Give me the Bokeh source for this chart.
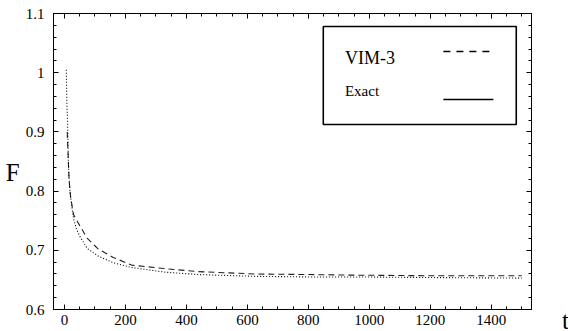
from bokeh.plotting import figure
from bokeh.models import (LinearAxis, FixedTicker, CustomJSTickFormatter, Label,
                          Range1d, BoxAnnotation, Div)
from bokeh.layouts import row
from bokeh.embed import file_html
from bokeh.resources import INLINE

# ---- data ----
t_exact = [6, 7, 8, 10, 12, 14, 18, 25, 30, 40, 52, 75, 111, 160, 220, 331, 439,
           626, 800, 954, 1200, 1500]
F_exact = [1.005, 0.97, 0.945, 0.92, 0.87, 0.83, 0.80, 0.77, 0.753, 0.735, 0.722,
           0.703, 0.69, 0.679, 0.671, 0.663, 0.659, 0.656, 0.655, 0.655, 0.654, 0.653]

t_vim3 = [9, 12, 15, 20, 30, 52, 75, 111, 160, 220, 331, 439, 626, 800, 954, 1200, 1500]
F_vim3 = [0.90, 0.86, 0.82, 0.79, 0.76, 0.74, 0.72, 0.702, 0.688, 0.675, 0.669, 0.664,
          0.660, 0.659, 0.658, 0.657, 0.657]

x_ticks = [0, 200, 400, 600, 800, 1000, 1200, 1400]
x_minor = [v for v in range(-50, 1551, 50)]
y_ticks = [0.6, 0.7, 0.8, 0.9, 1.0, 1.1]
y_minor = [round(0.6 + 0.02 * i, 2) for i in range(26)]

series_names = ["VIM-3", "Exact"]
x_title = "t"
y_title = "F"

FONT = "Liberation Serif"

p = figure(width=558, height=327, output_backend="svg", toolbar_location=None,
           x_range=Range1d(-36, 1532), y_range=Range1d(0.6, 1.1),
           min_border_left=53, min_border_right=27, min_border_top=13,
           min_border_bottom=10, x_axis_location=None, y_axis_location=None)
p.background_fill_color = "white"
p.border_fill_color = "white"
p.outline_line_color = "black"
p.outline_line_width = 1
p.xgrid.visible = False
p.ygrid.visible = False

blank = CustomJSTickFormatter(code="return '';")


def make_axis(ticks, minor, labels=True, fmt=None):
    ax = LinearAxis(ticker=FixedTicker(ticks=ticks, minor_ticks=minor))
    ax.axis_line_color = "black"
    ax.major_tick_in = 5
    ax.major_tick_out = 0
    ax.minor_tick_in = 3
    ax.minor_tick_out = 0
    ax.major_tick_line_color = "black"
    ax.minor_tick_line_color = "black"
    ax.major_label_text_font = FONT
    ax.major_label_text_font_size = "15px"
    ax.major_label_text_color = "black"
    if labels:
        if fmt is not None:
            ax.formatter = fmt
    else:
        ax.formatter = blank
        ax.major_label_standoff = 0
    return ax


yfmt = CustomJSTickFormatter(code="return String(Math.round(tick*10)/10);")
xb = make_axis(x_ticks, x_minor)
xb.major_label_standoff = 5
p.add_layout(xb, "below")
p.add_layout(make_axis(x_ticks, x_minor, labels=False), "above")

yl = make_axis(y_ticks, y_minor, fmt=yfmt)
yl.major_label_standoff = 9
yl.axis_label = "\n" + y_title
yl.axis_label_orientation = "horizontal"
yl.axis_label_text_font = FONT
yl.axis_label_text_font_style = "normal"
yl.axis_label_text_font_size = "25px"
yl.axis_label_text_line_height = 0.8
yl.axis_label_text_color = "black"
yl.axis_label_standoff = 3
p.add_layout(yl, "left")

p.add_layout(make_axis(y_ticks, y_minor, labels=False), "right")

# curves
p.line(t_vim3, F_vim3, line_color="#222222", line_width=1.1, line_dash="6 4")
p.line(t_exact, F_exact, line_color="black", line_width=1.1, line_dash="1 2")

# legend box (label left, sample right)
p.add_layout(BoxAnnotation(left=849, right=1482, bottom=0.9125, top=1.078,
                           fill_color="white", fill_alpha=1.0, level="underlay",
                           line_color="black", line_alpha=1.0, line_width=1.6))
p.add_layout(Label(x=920, y=1.024, text=series_names[0], text_font=FONT,
                   text_font_size="18px", text_color="black",
                   text_baseline="alphabetic"))
p.add_layout(Label(x=920, y=0.9694, text=series_names[1], text_font=FONT,
                   text_font_size="15px", text_color="black",
                   text_baseline="alphabetic"))
p.segment(x0=[1243], y0=[1.0358], x1=[1407], y1=[1.0358], line_color="black",
          line_width=1.3, line_dash="7 6")
p.segment(x0=[1243], y0=[0.9547], x1=[1407], y1=[0.9547], line_color="black",
          line_width=1.3)

# x-axis title "t", just right of the frame's lower corner
t_div = Div(text=("<div style=\"position:relative; top:306px; left:-1px; "
                  "font-family:'Liberation Serif'; font-size:25px; "
                  "line-height:20px; color:black;\">" + x_title + "</div>"),
            width=8, height=327)

layout = row(p, t_div)
open("out.html", "w").write(file_html(layout, INLINE))
